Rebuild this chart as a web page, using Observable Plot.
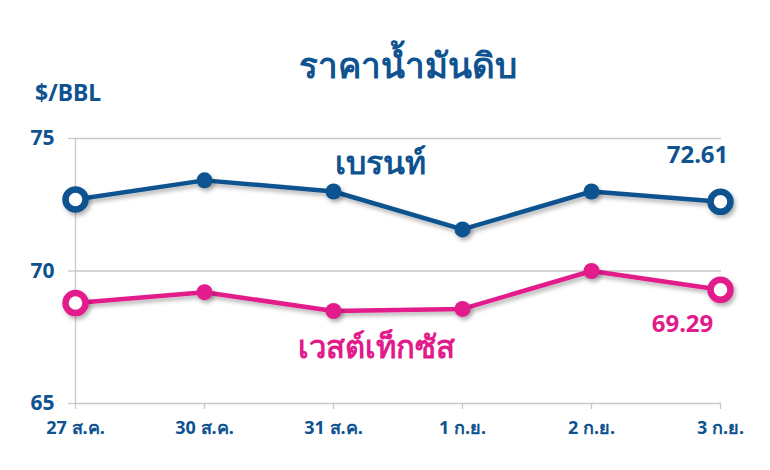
<!DOCTYPE html>
<html>
<head>
<meta charset="utf-8">
<script src="https://cdn.jsdelivr.net/npm/d3@7"></script>
<script src="https://cdn.jsdelivr.net/npm/@observablehq/plot@0.6"></script>
<style>
  html, body { margin: 0; padding: 0; background: #fff; }
  #wrap { position: relative; width: 770px; height: 470px; font-family: "Noto Sans", "DejaVu Sans", sans-serif; }
  #title { position: absolute; left: 0; width: 815px; top: 38px; text-align: center; font-size: 35px; font-weight: bold; color: #0e5290; }
  #unit { position: absolute; left: 35px; top: 76px; font-size: 23px; font-weight: bold; color: #0e5290; }
</style>
</head>
<body>
<div id="wrap">
  <div id="title">ราคาน้ำมันดิบ</div>
  <div id="unit">$/BBL</div>
</div>
<script>
// Daily crude oil prices, USD per barrel
const dates = ["27 ส.ค.", "30 ส.ค.", "31 ส.ค.", "1 ก.ย.", "2 ก.ย.", "3 ก.ย."];
const brent = [72.70, 73.42, 73.00, 71.57, 73.00, 72.61];
const wti = [68.79, 69.20, 68.49, 68.57, 70.00, 69.29];
const yTicks = [65, 70, 75];
const seriesNames = ["เบรนท์", "เวสต์เท็กซัส"];

const BLUE = "#0e5290";
const PINK = "#e21a8b";
const GRID = "#c8c8c8";

const rows = (vals, name) => vals.map((v, i) => ({date: dates[i], value: v, series: name, end: i === 0 || i === vals.length - 1}));
const brentRows = rows(brent, seriesNames[0]);
const wtiRows = rows(wti, seriesNames[1]);
const last = (arr) => arr[arr.length - 1];

const chart = Plot.plot({
  width: 770,
  height: 470,
  marginLeft: 74,
  marginRight: 49,
  marginTop: 138,
  marginBottom: 67,
  style: {fontFamily: "'Noto Sans', 'DejaVu Sans', sans-serif", background: "#fff"},
  x: {type: "point", domain: dates, padding: 0},
  y: {domain: [65, 75]},
  marks: [
    // horizontal grid and frame lines
    Plot.ruleY(yTicks.filter(t => t > 65), {stroke: GRID, strokeWidth: 1.3}),
    Plot.ruleY([65], {stroke: GRID, strokeWidth: 1.3}),
    Plot.ruleX([dates[0]], {stroke: GRID, strokeWidth: 1.3}),
    Plot.axisY(yTicks, {tickSize: 6, tickPadding: 14, stroke: GRID, strokeWidth: 1.3, fill: BLUE, fontSize: 21, fontWeight: "bold", label: null}),
    Plot.axisX({tickSize: 6, tickPadding: 12, stroke: GRID, strokeWidth: 1.3, fill: BLUE, fontSize: 18, fontWeight: "bold", label: null}),
    // series lines
    Plot.line(brentRows, {x: "date", y: "value", stroke: BLUE, strokeWidth: 4.5}),
    Plot.line(wtiRows, {x: "date", y: "value", stroke: PINK, strokeWidth: 4.5}),
    // inner points filled, end points hollow
    Plot.dot(brentRows.filter(d => !d.end), {x: "date", y: "value", r: 8, fill: BLUE}),
    Plot.dot(wtiRows.filter(d => !d.end), {x: "date", y: "value", r: 8, fill: PINK}),
    Plot.dot(brentRows.filter(d => d.end), {x: "date", y: "value", r: 10, fill: "#fff", stroke: BLUE, strokeWidth: 6.5}),
    Plot.dot(wtiRows.filter(d => d.end), {x: "date", y: "value", r: 10, fill: "#fff", stroke: PINK, strokeWidth: 6.5}),
    // series names
    Plot.text([brentRows[2]], {x: "date", y: "value", text: d => d.series, dx: 47, dy: -28, fill: BLUE, fontSize: 32, fontWeight: "bold"}),
    Plot.text([wtiRows[2]], {x: "date", y: "value", text: d => d.series, dx: 43, dy: 37, fill: PINK, fontSize: 31, fontWeight: "bold"}),
    // latest values
    Plot.text([last(brentRows)], {x: "date", y: "value", text: d => d.value.toFixed(2), dx: -23, dy: -47, fill: BLUE, fontSize: 24, fontWeight: "bold"}),
    Plot.text([last(wtiRows)], {x: "date", y: "value", text: d => d.value.toFixed(2), dx: -38, dy: 34, fill: PINK, fontSize: 24, fontWeight: "bold"})
  ]
});

// soft drop shadow under lines and points
const ns = "http://www.w3.org/2000/svg";
const defs = document.createElementNS(ns, "defs");
defs.innerHTML = '<filter id="shade" filterUnits="userSpaceOnUse" x="0" y="0" width="770" height="470"><feDropShadow dx="2" dy="3" stdDeviation="2" flood-color="#000" flood-opacity="0.3"/></filter>';
chart.insertBefore(defs, chart.firstChild);
chart.querySelectorAll('g[aria-label="line"], g[aria-label="dot"]').forEach(g => g.setAttribute("filter", "url(#shade)"));

chart.style.position = "absolute";
chart.style.left = "0";
chart.style.top = "0";
document.getElementById("wrap").insertBefore(chart, document.getElementById("title"));
</script>
</body>
</html>
